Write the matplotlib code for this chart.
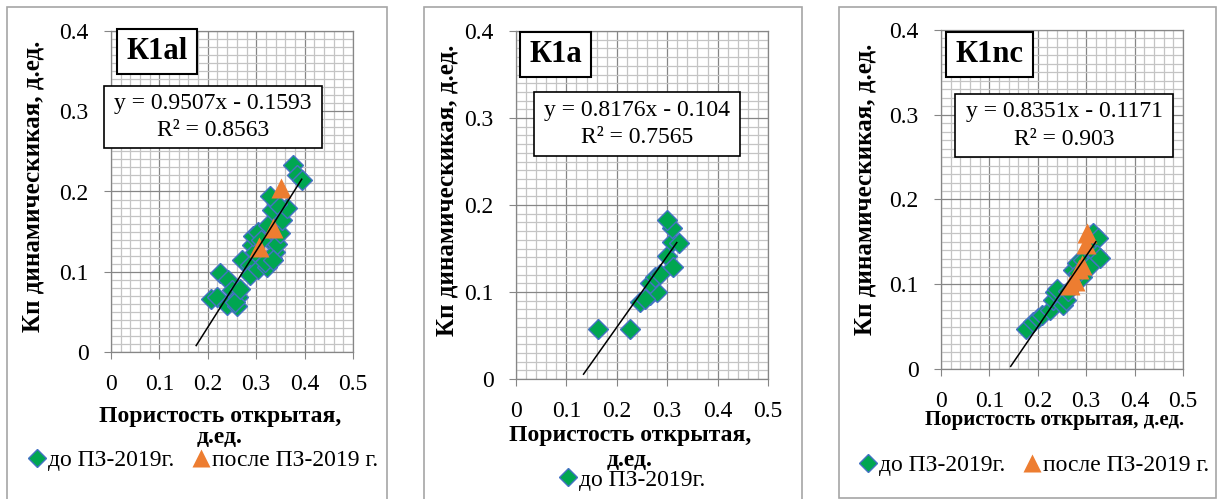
import matplotlib
matplotlib.use("Agg")
import matplotlib.pyplot as plt
from matplotlib.lines import Line2D
from matplotlib.patches import Rectangle
from matplotlib.ticker import MultipleLocator, FuncFormatter

plt.rcParams['font.family'] = ['Liberation Serif', 'DejaVu Serif']

W, H = 1217, 499

# ---- data ----
titles = ["К1al", "К1a", "К1nc"]
eq_texts = ["y = 0.9507x - 0.1593\nR² = 0.8563",
            "y = 0.8176x - 0.104\nR² = 0.7565",
            "y = 0.8351x - 0.1171\nR² = 0.903"]
slopes = [0.9507, 0.8176, 0.8351]
intercepts = [-0.1593, -0.104, -0.1171]
trend_x = [(0.176, 0.394), (0.134, 0.319), (0.144, 0.320)]

k1al_x = [0.207, 0.218, 0.225, 0.242, 0.239, 0.249, 0.260, 0.263, 0.256, 0.267,
          0.270, 0.287, 0.287, 0.291, 0.298, 0.294, 0.304, 0.304, 0.322, 0.332,
          0.325, 0.339, 0.339, 0.342, 0.349, 0.310, 0.325, 0.353, 0.363, 0.332,
          0.342, 0.329, 0.377, 0.384, 0.394, 0.318, 0.335]
k1al_y = [0.066, 0.069, 0.098, 0.090, 0.059, 0.077, 0.057, 0.069, 0.062, 0.079,
          0.115, 0.108, 0.096, 0.133, 0.125, 0.144, 0.104, 0.150, 0.106, 0.117,
          0.142, 0.133, 0.125, 0.135, 0.148, 0.140, 0.158, 0.164, 0.179, 0.177,
          0.185, 0.194, 0.233, 0.221, 0.214, 0.112, 0.115]
k1al_post_x = [0.306, 0.335, 0.351]
k1al_post_y = [0.131, 0.154, 0.204]

k1a_x = [0.163, 0.226, 0.246, 0.266, 0.279, 0.266, 0.276, 0.286, 0.299, 0.312,
         0.309, 0.324, 0.309, 0.299, 0.256]
k1a_y = [0.057, 0.058, 0.088, 0.097, 0.100, 0.110, 0.117, 0.121, 0.141, 0.129,
         0.158, 0.156, 0.173, 0.183, 0.092]

k1nc_x = [0.175, 0.190, 0.200, 0.209, 0.226, 0.232, 0.236, 0.240, 0.253, 0.258,
          0.263, 0.273, 0.280, 0.291, 0.294, 0.308, 0.310, 0.315, 0.325, 0.322,
          0.329, 0.283]
k1nc_y = [0.047, 0.055, 0.060, 0.064, 0.070, 0.081, 0.091, 0.094, 0.076, 0.081,
          0.092, 0.117, 0.125, 0.109, 0.129, 0.140, 0.123, 0.160, 0.154, 0.135,
          0.131, 0.113]
k1nc_post_x = [0.301, 0.300, 0.291, 0.277, 0.266, 0.285]
k1nc_post_y = [0.160, 0.147, 0.123, 0.104, 0.099, 0.118]

pre_x = [k1al_x, k1a_x, k1nc_x]
pre_y = [k1al_y, k1a_y, k1nc_y]
post_x = [k1al_post_x, None, k1nc_post_x]
post_y = [k1al_post_y, None, k1nc_post_y]

lab_pre = "до ПЗ-2019г."
lab_post = "после ПЗ-2019 г."
ylab = "Кп динамическикая, д.ед."
xlabs = ["Пористость открытая,\nд.ед.", "Пористость открытая,\nд.ед.",
         "Пористость открытая, д.ед."]

# ---- layout in pixels (left, top, right, bottom) ----
axes_px = [(111, 31, 353, 352), (516, 31, 768, 379), (941, 30, 1183, 369)]
frame_px = [(7, 7, 387, 505), (424, 7, 802, 505), (839, 7, 1216, 498)]
title_px = [(117, 29, 197, 74), (520, 32, 591, 77), (946, 32, 1033, 77)]
eqbox_px = [(104, 86, 322, 148), (534, 92, 740, 156), (955, 94, 1173, 157)]
ylab_pos = [(33, 186), (447, 190), (865, 189)]
xlab_pos = [(220, 427), (630, 448), (1055, 420)]
xlab_size = [17, 17, 15]
xlab_ls = [1.05, 1.2, 1.0]
leg_pos = [(204, 460), (633, 480), (1035, 465)]

GREEN = '#00A651'
EDGE = '#4472C4'
ORANGE = '#ED7D31'
MAJ = '#868686'
MIN = '#C4C4C4'


def fx(x):
    return x / W


def fy(y):
    return 1 - y / H


def frect(box):
    l, t, r, b = box
    return (fx(l), fy(b)), fx(r) - fx(l), fy(t) - fy(b)


fig = plt.figure(figsize=(W / 100, H / 100), dpi=100)
fig.patch.set_facecolor('white')

for i in range(3):
    (x0, y0), w, h = frect(frame_px[i])
    fig.patches.append(Rectangle((x0, y0), w, h, transform=fig.transFigure,
                                 fill=False, ec='#A6A6A6', lw=1.2, zorder=0))

    (x0, y0), w, h = frect(axes_px[i])
    ax = fig.add_axes([x0, y0, w, h])
    ax.set_xlim(0, 0.5)
    ax.set_ylim(0, 0.4)
    ax.xaxis.set_major_locator(MultipleLocator(0.1))
    ax.xaxis.set_minor_locator(MultipleLocator(0.02))
    ax.yaxis.set_major_locator(MultipleLocator(0.1))
    ax.yaxis.set_minor_locator(MultipleLocator(0.01))
    fmt = FuncFormatter(lambda v, p: '0' if abs(v) < 1e-9 else f'{v:.1f}')
    ax.xaxis.set_major_formatter(fmt)
    ax.yaxis.set_major_formatter(fmt)
    ax.grid(which='minor', color=MIN, lw=0.9)
    ax.grid(which='major', color=MAJ, lw=0.9)
    ax.set_axisbelow(True)
    for s in ax.spines.values():
        s.set_color(MAJ)
        s.set_linewidth(0.9)
    ax.tick_params(which='major', length=5, color=MAJ, labelsize=17, pad=11)
    ax.tick_params(which='minor', length=0)

    ax.plot(pre_x[i], pre_y[i], ls='none', marker='D', ms=10.5, mfc=GREEN,
            mec=EDGE, mew=1.0, zorder=3)
    if post_x[i] is not None:
        ax.plot(post_x[i], post_y[i], ls='none', marker='^', ms=15, mfc=ORANGE,
                mec='none', zorder=4)
    tx = list(trend_x[i])
    ty = [slopes[i] * v + intercepts[i] for v in tx]
    ax.plot(tx, ty, color='black', lw=1.1, zorder=5)

    # title box
    (x0, y0), w, h = frect(title_px[i])
    fig.patches.append(Rectangle((x0, y0), w, h, transform=fig.transFigure,
                                 fc='white', ec='black', lw=1.5, zorder=10))
    fig.text(x0 + w / 2, y0 + h / 2, titles[i], ha='center', va='center',
             fontsize=22, fontweight='bold', zorder=11)

    # equation box
    (x0, y0), w, h = frect(eqbox_px[i])
    fig.patches.append(Rectangle((x0, y0), w, h, transform=fig.transFigure,
                                 fc='white', ec='black', lw=1.2, zorder=10))
    fig.text(x0 + w / 2, y0 + h / 2, eq_texts[i], ha='center', va='center',
             fontsize=17, linespacing=1.4, zorder=11)

    fig.text(fx(ylab_pos[i][0]), fy(ylab_pos[i][1]), ylab, rotation=90,
             ha='center', va='center', fontsize=18, fontweight='bold')
    fig.text(fx(xlab_pos[i][0]), fy(xlab_pos[i][1]), xlabs[i], ha='center',
             va='center', fontsize=xlab_size[i], fontweight='bold',
             linespacing=xlab_ls[i])

    handles = [Line2D([], [], ls='none', marker='D', ms=9, mfc=GREEN, mec=EDGE,
                      mew=1.0, label=lab_pre)]
    if post_x[i] is not None:
        handles.append(Line2D([], [], ls='none', marker='^', ms=13, mfc=ORANGE,
                              mec='none', label=lab_post))
    fig.legend(handles=handles, loc='center',
               bbox_to_anchor=(fx(leg_pos[i][0]), fy(leg_pos[i][1])),
               ncol=len(handles), frameon=False, fontsize=17,
               handlelength=0.6, handletextpad=0.2, columnspacing=0.8,
               borderpad=0, borderaxespad=0)

fig.savefig('out.png', dpi=100, facecolor='white')
